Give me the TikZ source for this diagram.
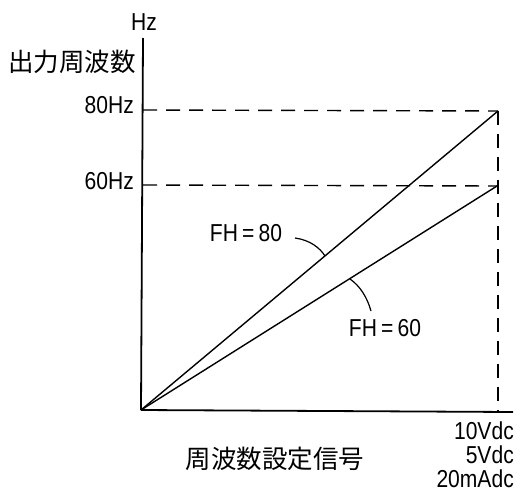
\documentclass[tikz,border=0pt]{standalone}
\usepackage{fontspec}
\setmainfont{Liberation Sans}
\newfontfamily\narrowfont[FakeStretch=0.86]{Liberation Sans}
\newfontfamily\cjk{Noto Sans CJK JP}
\begin{document}
\begin{tikzpicture}[x=1pt,y=-1pt,
  axis/.style={line width=1.8pt},
  curve/.style={line width=1.4pt},
  guide/.style={line width=1.4pt, dash pattern=on 14pt off 9pt},
  leader/.style={line width=1.2pt},
  lbl/.style={font=\fontsize{24.5}{26}\selectfont\narrowfont, inner sep=0pt},
  jlbl/.style={font=\fontsize{25.5}{27}\selectfont\cjk, inner sep=0pt}]
\useasboundingbox (0,0) rectangle (524,493);
\coordinate (O) at (141,410);
\coordinate (ytop) at (143,38);
\coordinate (xend) at (513,412);
\coordinate (p80) at (498,111);
\coordinate (p60) at (497,186);
\coordinate (y80) at (143,110);
\coordinate (y60) at (143,185);
\coordinate (xb) at (498,412);
\draw[axis] (O) -- (ytop);
\draw[axis] (O) -- (xend);
\draw[guide] (y80) -- (p80);
\draw[guide] (y60) -- (p60);
\draw[guide] (p80) -- (xb);
\draw[curve] (O) -- (p80);
\draw[curve] (O) -- (p60);
\node[lbl, anchor=base] (hz) at (144,30) {Hz};
\node[jlbl] (out) at (72,62) {出力周波数};
\node[lbl, anchor=base east] (l80) at (134,113) {80Hz};
\node[lbl, anchor=base east] (l60) at (134,189) {60Hz};
\node[lbl, anchor=base] (fh80) at (246,241) {FH$\,$=$\,$80};
\node[lbl, anchor=base] (fh60) at (385,336) {FH$\,$=$\,$60};
\coordinate (s80) at (295,238);
\coordinate (a80) at (325,256);
\coordinate (s60) at (371,311);
\coordinate (a60) at (350,279);
\draw[leader] (s80) .. controls (310,240) and (320,248) .. (a80);
\draw[leader] (s60) .. controls (367,297) and (360,286) .. (a60);
\node[lbl, anchor=base east] (v10) at (514,439) {10Vdc};
\node[lbl, anchor=base east] (v5) at (514,463) {5Vdc};
\node[lbl, anchor=base east] (ma) at (514,487) {20mAdc};
\node[jlbl] (sig) at (275,459) {周波数設定信号};
\end{tikzpicture}
\end{document}
